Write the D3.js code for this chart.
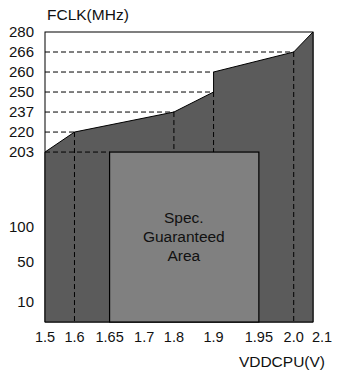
<!DOCTYPE html>
<html>
<head>
<meta charset="utf-8">
<script src="https://cdn.jsdelivr.net/npm/d3@7"></script>
<style>
  body { margin: 0; background: #fff; }
  svg { display: block; font-family: "Liberation Sans", Arial, sans-serif; }
</style>
</head>
<body>
<div id="chart"></div>
<script>
// x ticks (V) and y ticks (MHz)
const xTicks = [1.5, 1.6, 1.65, 1.7, 1.8, 1.9, 1.95, 2.0, 2.1];
const xLabels = ['1.5', '1.6', '1.65', '1.7', '1.8', '1.9', '1.95', '2.0', '2.1'];
const yTicks = [10, 50, 100, 203, 220, 237, 250, 260, 266, 280];

// operating boundary (voltage, max FCLK)
const boundV = [1.5, 1.6, 1.8, 1.9, 1.9, 2.0, 2.1];
const boundF = [203, 220, 237, 250, 260, 266, 280];

// spec guaranteed area
const specV = [1.65, 1.95];
const specF = [0, 203];

const width = 337, height = 374;
const plot = { left: 45, right: 313, top: 32, bottom: 322 };

const svg = d3.select('#chart').append('svg')
    .attr('width', width)
    .attr('height', height);

// piecewise scales, the original axes are not linear
const xDomain = [1.5, 1.6, 1.65, 1.7, 1.8, 1.9, 1.95, 2.0, 2.1];
const xFrac = [0, 0.11, 0.241, 0.37, 0.481, 0.629, 0.798, 0.928, 1];
const x = d3.scaleLinear()
    .domain(xDomain)
    .range(xFrac.map(f => plot.left + f * (plot.right - plot.left)));

const yDomain = [0, 10, 50, 100, 203, 220, 237, 250, 260, 266, 280];
const yFrac = [0, 0.069, 0.207, 0.328, 0.586, 0.655, 0.724, 0.793, 0.862, 0.931, 1];
const y = d3.scaleLinear()
    .domain(yDomain)
    .range(yFrac.map(f => plot.bottom - f * (plot.bottom - plot.top)));

// frame
svg.append('rect')
    .attr('x', x(1.5)).attr('y', y(280))
    .attr('width', x(2.1) - x(1.5)).attr('height', y(0) - y(280))
    .attr('fill', '#fff')
    .attr('stroke', '#000');

// boundary area
const pts = boundV.map((v, i) => [v, boundF[i]]);
pts.push([2.1, 0], [1.5, 0]);
svg.append('path')
    .attr('d', d3.line().x(d => x(d[0])).y(d => y(d[1]))(pts) + 'Z')
    .attr('fill', '#5b5b5b')
    .attr('stroke', '#000')
    .attr('stroke-width', 1);

// dashed guides
const guides = svg.append('g')
    .attr('stroke', '#000')
    .attr('stroke-dasharray', '5,3')
    .attr('fill', 'none');

boundV.forEach((v, i) => {
    const f = boundF[i];
    if (f === 280) return;
    if (f === 203) {
        guides.append('line')
            .attr('x1', x(1.5)).attr('x2', x(specV[0]))
            .attr('y1', y(f)).attr('y2', y(f));
        return;
    }
    guides.append('line')
        .attr('x1', x(1.5)).attr('x2', x(v))
        .attr('y1', y(f)).attr('y2', y(f));
    if (f !== 260) {
        guides.append('line')
            .attr('x1', x(v)).attr('x2', x(v))
            .attr('y1', y(f)).attr('y2', y(0));
    }
});

// spec rectangle
svg.append('rect')
    .attr('x', x(specV[0])).attr('y', y(specF[1]))
    .attr('width', x(specV[1]) - x(specV[0]))
    .attr('height', y(specF[0]) - y(specF[1]))
    .attr('fill', '#808080')
    .attr('stroke', '#000')
    .attr('stroke-width', 1.2);

const cx = x(1.825);
svg.append('text')
    .attr('x', cx).attr('y', y(100) - 4)
    .attr('text-anchor', 'middle')
    .attr('font-size', 15.5)
    .attr('fill', '#111')
    .selectAll('tspan')
    .data(['Spec.', 'Guaranteed', 'Area'])
    .join('tspan')
    .attr('x', cx)
    .attr('dy', (d, i) => i === 0 ? 0 : 19)
    .text(d => d);

// y axis labels
svg.append('g')
    .selectAll('text')
    .data(yTicks)
    .join('text')
    .attr('x', 34)
    .attr('y', d => y(d))
    .attr('dy', '0.36em')
    .attr('text-anchor', 'end')
    .attr('font-size', 15)
    .attr('fill', '#111')
    .text(d => d);

// x axis labels
svg.append('g')
    .selectAll('text')
    .data(xTicks)
    .join('text')
    .attr('x', d => x(d) + (d === 2.1 ? 9 : 0))
    .attr('y', 342)
    .attr('text-anchor', 'middle')
    .attr('font-size', 14.5)
    .attr('fill', '#111')
    .text((d, i) => xLabels[i]);

// axis titles
svg.append('text')
    .attr('x', 47).attr('y', 20)
    .attr('font-size', 15.5)
    .attr('fill', '#111')
    .text('FCLK(MHz)');

svg.append('text')
    .attr('x', 325).attr('y', 367)
    .attr('text-anchor', 'end')
    .attr('font-size', 15.5)
    .attr('fill', '#111')
    .text('VDDCPU(V)');
</script>
</body>
</html>
